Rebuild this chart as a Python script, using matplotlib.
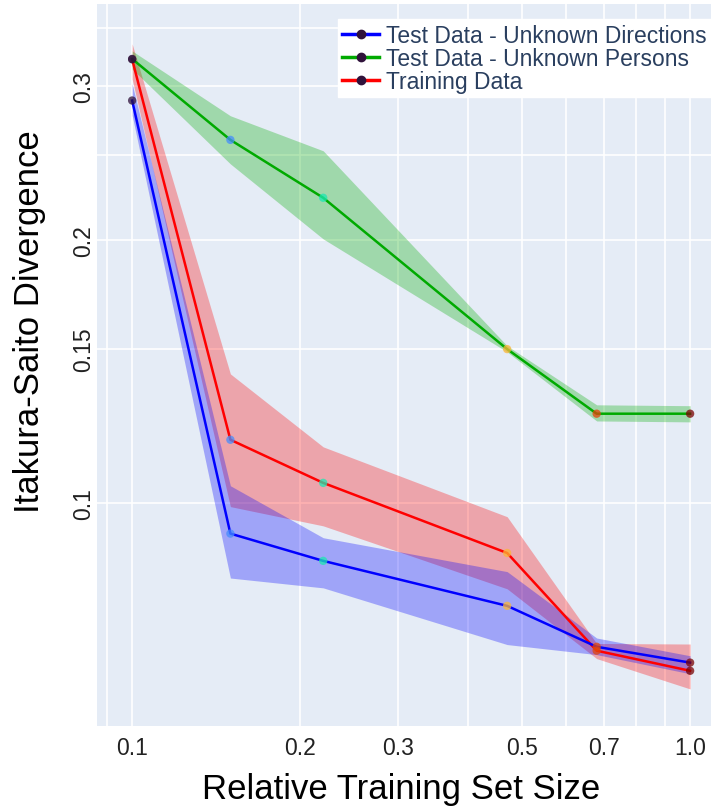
import numpy as np
import matplotlib.pyplot as plt
from matplotlib.lines import Line2D
from matplotlib.ticker import FixedLocator, FixedFormatter, NullFormatter

plt.rcParams['font.family'] = ['Liberation Sans', 'DejaVu Sans']

# relative training set sizes (x)
sizes = [0.1, 0.15, 0.22, 0.47, 0.68, 1.0]

# Test Data - Unknown Directions
dir_mean = [0.289, 0.0922, 0.0858, 0.0762, 0.0684, 0.0656]
dir_upper = [0.302, 0.1046, 0.0912, 0.0834, 0.0700, 0.0668]
dir_lower = [0.278, 0.0820, 0.0799, 0.0688, 0.0670, 0.0637]

# Test Data - Unknown Persons
per_mean = [0.3225, 0.2605, 0.2236, 0.150, 0.1265, 0.1265]
per_upper = [0.3294, 0.2776, 0.2531, 0.1513, 0.1295, 0.1292]
per_lower = [0.3141, 0.2445, 0.2006, 0.1489, 0.1241, 0.1238]

# Training Data
train_mean = [0.3222, 0.1181, 0.1054, 0.0876, 0.0677, 0.0642]
train_upper = [0.3356, 0.1405, 0.1159, 0.0964, 0.0690, 0.0689]
train_lower = [0.3059, 0.0990, 0.0941, 0.0797, 0.0663, 0.0612]

xticks = [0.1, 0.2, 0.3, 0.5, 0.7, 1.0]
xtick_labels = ['0.1', '0.2', '0.3', '0.5', '0.7', '1.0']
xminor = [0.09, 0.4, 0.6, 0.8, 0.9]
yticks = [0.1, 0.15, 0.2, 0.3]
ytick_labels = ['0.1', '0.15', '0.2', '0.3']
yminor = [0.25, 0.35]

series = [
    ('Training Data', train_mean, train_lower, train_upper, '#ff0000'),
    ('Test Data - Unknown Persons', per_mean, per_lower, per_upper, '#00aa00'),
    ('Test Data - Unknown Directions', dir_mean, dir_lower, dir_upper, '#0000ff'),
]

fig = plt.figure(figsize=(7.18, 8.12), dpi=100)
ax = fig.add_axes([97 / 718, 1 - 727 / 812, 614 / 718, 722 / 812])
ax.set_facecolor('#e5ecf6')
for s in ax.spines.values():
    s.set_visible(False)

x = np.array(sizes)
for name, mean, lo, hi, col in series:
    ax.fill_between(x, lo, hi, color=col, alpha=0.3, lw=0, zorder=2)
    ax.plot(x, mean, color=col, lw=1.8, zorder=3)

# markers coloured by (log) training set size
for name, mean, lo, hi, col in series:
    ax.scatter(x, mean, c=np.log10(x), cmap='turbo', vmin=-1, vmax=0,
               s=36, alpha=0.75, lw=0, zorder=4)

ax.set_xscale('log')
ax.set_yscale('log')
ax.set_xlim(0.0865, 1.09)
ax.set_ylim(0.0555, 0.3728)

ax.xaxis.set_major_locator(FixedLocator(xticks))
ax.xaxis.set_major_formatter(FixedFormatter(xtick_labels))
ax.xaxis.set_minor_locator(FixedLocator(xminor))
ax.xaxis.set_minor_formatter(NullFormatter())
ax.yaxis.set_major_locator(FixedLocator(yticks))
ax.yaxis.set_major_formatter(FixedFormatter(ytick_labels))
ax.yaxis.set_minor_locator(FixedLocator(yminor))
ax.yaxis.set_minor_formatter(NullFormatter())

ax.grid(True, which='both', color='white', lw=1.2, zorder=0)
ax.set_axisbelow(True)
ax.tick_params(which='both', length=0, labelsize=16.5, colors='#222222')
ax.tick_params(axis='x', pad=7)
ax.tick_params(axis='y', pad=1)
plt.setp(ax.get_yticklabels(), rotation=90, va='center')

fig.text(401 / 718, 1 - 790 / 812, 'Relative Training Set Size',
         ha='center', va='center', fontsize=25, color='black')
fig.text(30 / 718, 1 - 322 / 812, 'Itakura-Saito Divergence',
         ha='center', va='center', rotation=90, fontsize=25, color='black')

handles = [
    Line2D([], [], color='#0000ff', lw=2.5, marker='o', ms=6, mfc='#30123b', mec='#30123b'),
    Line2D([], [], color='#00aa00', lw=2.5, marker='o', ms=6, mfc='#30123b', mec='#30123b'),
    Line2D([], [], color='#ff0000', lw=2.5, marker='o', ms=6, mfc='#30123b', mec='#30123b'),
]
labels = ['Test Data - Unknown Directions', 'Test Data - Unknown Persons', 'Training Data']
leg = ax.legend(handles, labels, loc='upper right', bbox_to_anchor=(711 / 718, 1 - 20 / 812),
                bbox_transform=fig.transFigure, borderaxespad=0, fontsize=16.5,
                frameon=True, fancybox=False, framealpha=1, edgecolor='white',
                handlelength=1.6, handletextpad=0.3, labelspacing=0.0, borderpad=0.2)
for t in leg.get_texts():
    t.set_color('#2a3f5f')
leg.set_zorder(10)

fig.savefig('out.png', dpi=100, facecolor='white')
